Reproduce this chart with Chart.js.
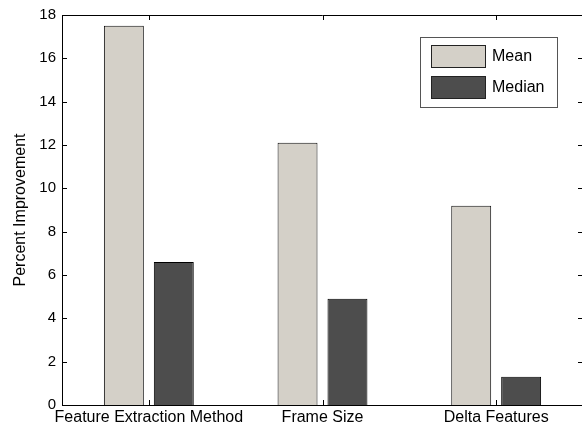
<!DOCTYPE html>
<html>
<head>
<meta charset="utf-8">
<script src="https://cdn.jsdelivr.net/npm/chart.js@4/dist/chart.umd.min.js"></script>
<style>
  html, body { margin: 0; padding: 0; background: #fff; overflow: hidden; }
  #wrap { width: 590px; height: 427px; }
</style>
</head>
<body>
<div id="wrap"><canvas id="myChart" width="590" height="427"></canvas></div>
<script>
var categories = ["Feature Extraction Method", "Frame Size", "Delta Features"];
var meanValues = [17.5, 12.1, 9.2];
var medianValues = [6.6, 4.9, 1.3];
var yTicks = [0, 2, 4, 6, 8, 10, 12, 14, 16, 18];

const FONT = "'Liberation Sans', Arial, Helvetica, sans-serif";

// matlab style box: ticks pointing inward on all four sides
const boxTicks = {
  id: "boxTicks",
  afterDatasetsDraw(chart) {
    const ctx = chart.ctx;
    const a = chart.chartArea;
    const x = chart.scales.x;
    const y = chart.scales.y;
    const len = 5;
    ctx.save();
    ctx.strokeStyle = "#000";
    ctx.lineWidth = 1;
    ctx.beginPath();
    // top and right border
    ctx.moveTo(a.left, a.top + 0.5);
    ctx.lineTo(a.right, a.top + 0.5);
    ctx.moveTo(a.right - 0.5, a.top);
    ctx.lineTo(a.right - 0.5, a.bottom);
    yTicks.forEach((v) => {
      const py = Math.round(y.getPixelForValue(v)) + 0.5;
      ctx.moveTo(a.left, py);
      ctx.lineTo(a.left + len, py);
      ctx.moveTo(a.right, py);
      ctx.lineTo(a.right - len, py);
    });
    categories.forEach((c, i) => {
      const px = Math.round(x.getPixelForValue(i)) + 0.5;
      ctx.moveTo(px, a.bottom);
      ctx.lineTo(px, a.bottom - len);
      ctx.moveTo(px, a.top);
      ctx.lineTo(px, a.top + len);
    });
    ctx.stroke();
    ctx.restore();
  }
};

// legend box in the upper right of the axes
const boxLegend = {
  id: "boxLegend",
  afterDraw(chart) {
    const ctx = chart.ctx;
    const left = 420, top = 37, w = 137, h = 70;
    ctx.save();
    ctx.fillStyle = "#fff";
    ctx.fillRect(left, top, w, h);
    ctx.strokeStyle = "#555";
    ctx.lineWidth = 1;
    ctx.strokeRect(left + 0.5, top + 0.5, w, h);
    chart.data.datasets.forEach((ds, i) => {
      const sy = 45 + i * 31;
      ctx.fillStyle = ds.backgroundColor;
      ctx.fillRect(431, sy, 55, 23);
      ctx.strokeStyle = "#222";
      ctx.strokeRect(431.5, sy + 0.5, 54, 22);
      ctx.fillStyle = "#000";
      ctx.font = "16px " + FONT;
      ctx.textBaseline = "middle";
      ctx.fillText(ds.label, 492, sy + 12);
    });
    ctx.restore();
  }
};

const ctx = document.getElementById("myChart").getContext("2d");

const myChart = new Chart(ctx, {
  type: "bar",
  data: {
    labels: categories,
    datasets: [
      {
        label: "Mean",
        data: meanValues,
        backgroundColor: "#d4d0c8",
        borderColor: "#111",
        borderWidth: 1,
        categoryPercentage: 0.575,
        barPercentage: 0.8
      },
      {
        label: "Median",
        data: medianValues,
        backgroundColor: "#4d4d4d",
        borderColor: "#000",
        borderWidth: 1,
        categoryPercentage: 0.575,
        barPercentage: 0.8
      }
    ]
  },
  options: {
    responsive: false,
    animation: false,
    layout: { padding: { left: 0, right: 7, top: 13, bottom: 0 } },
    plugins: {
      legend: { display: false },
      tooltip: { enabled: false }
    },
    scales: {
      x: {
        offset: true,
        grid: { display: false, drawTicks: false },
        border: { display: true, color: "#000", width: 1 },
        ticks: {
          color: "#000",
          font: { family: FONT, size: 16 },
          padding: 3,
          maxRotation: 0,
          autoSkip: false
        },
        afterFit(scale) { scale.height = 22; }
      },
      y: {
        min: 0,
        max: 18,
        afterBuildTicks(scale) {
          scale.ticks = yTicks.map((v) => ({ value: v }));
        },
        grid: { display: false, drawTicks: false },
        border: { display: true, color: "#000", width: 1 },
        ticks: {
          color: "#000",
          font: { family: FONT, size: 15 },
          padding: 6
        },
        title: {
          display: true,
          text: "Percent Improvement",
          color: "#000",
          font: { family: FONT, size: 16 },
          padding: { top: 11, bottom: 0 }
        },
        afterFit(scale) { scale.width = 62; }
      }
    }
  },
  plugins: [boxTicks, boxLegend]
});
</script>
</body>
</html>
